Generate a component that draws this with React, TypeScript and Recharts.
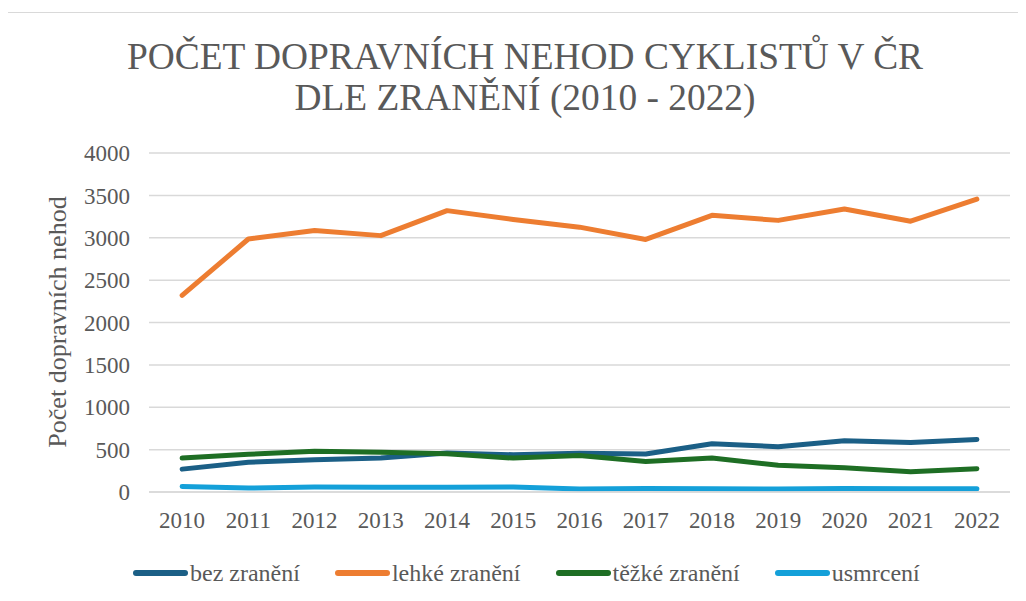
import React from 'react';
import { LineChart, Line, XAxis, YAxis, CartesianGrid } from 'recharts';

const years = ['2010', '2011', '2012', '2013', '2014', '2015', '2016', '2017', '2018', '2019', '2020', '2021', '2022'];
const bezZraneni = [270, 350, 380, 400, 460, 440, 457, 448, 570, 535, 605, 585, 620];
const lehkeZraneni = [2320, 2985, 3085, 3025, 3320, 3215, 3125, 2980, 3265, 3205, 3340, 3195, 3455];
const tezkeZraneni = [400, 445, 480, 470, 450, 400, 430, 360, 400, 315, 285, 240, 275];
const usmrceni = [65, 47, 58, 55, 55, 60, 35, 40, 37, 35, 40, 38, 38];
const yTicks = [0, 500, 1000, 1500, 2000, 2500, 3000, 3500, 4000];

const seriesNames = ['bez zranění', 'lehké zranění', 'těžké zranění', 'usmrcení'];
const seriesColors = ['#1B5F86', '#ED7D31', '#1E6E24', '#14A0D9'];

const data = years.map((y, i) => ({
  year: y,
  bez: bezZraneni[i],
  lehke: lehkeZraneni[i],
  tezke: tezkeZraneni[i],
  usmrceni: usmrceni[i],
}));
const keys = ['bez', 'lehke', 'tezke', 'usmrceni'];

const FONT = '"Liberation Serif", "Times New Roman", serif';
const GREY = '#595959';

export default function App() {
  return (
    <div style={{ position: 'relative', width: 1026, height: 601, margin: -8, overflow: 'hidden', background: '#fff', fontFamily: FONT }}>
      <div style={{ position: 'absolute', left: 5, top: 12, width: 1040, height: 620, border: '1.5px solid #d9d9d9', boxSizing: 'border-box' }} />
      <div style={{ position: 'absolute', left: 0, top: 36, width: 1050, textAlign: 'center', fontSize: 37.4, lineHeight: '41px', color: GREY }}>
        POČET DOPRAVNÍCH NEHOD CYKLISTŮ V ČR<br />DLE ZRANĚNÍ (2010 - 2022)
      </div>
      <div style={{ position: 'absolute', left: 58, top: 322, transform: 'translate(-50%, -50%) rotate(-90deg)', whiteSpace: 'nowrap', fontSize: 26, color: GREY, lineHeight: '30px' }}>
        Počet dopravních nehod
      </div>
      <div style={{ position: 'absolute', left: 0, top: 0 }}>
        <LineChart width={1026} height={601} data={data} margin={{ top: 153, right: 16, bottom: 79, left: 0 }}>
          <CartesianGrid vertical={false} stroke="#d9d9d9" strokeWidth={1.5} />
          <XAxis
            dataKey="year"
            scale="band"
            height={30}
            tickLine={false}
            tickSize={0}
            tickMargin={20}
            axisLine={{ stroke: '#d9d9d9', strokeWidth: 1.5 }}
            tick={{ fill: GREY, fontSize: 23, fontFamily: FONT }}
            interval={0}
          />
          <YAxis
            width={149}
            domain={[0, 4000]}
            ticks={yTicks}
            tickLine={false}
            axisLine={false}
            tickSize={0}
            tickMargin={19}
            tick={{ fill: GREY, fontSize: 23, fontFamily: FONT }}
            interval={0}
          />
          {keys.map((k, i) => (
            <Line
              key={k}
              type="linear"
              dataKey={k}
              name={seriesNames[i]}
              stroke={seriesColors[i]}
              strokeWidth={5}
              strokeLinecap="round"
              strokeLinejoin="round"
              dot={false}
              activeDot={false}
              isAnimationActive={false}
            />
          ))}
        </LineChart>
      </div>
      <div style={{ position: 'absolute', left: 133, top: 573, transform: 'translateY(-50%)', display: 'flex', alignItems: 'center', gap: 35, fontSize: 24, color: GREY, lineHeight: '28px' }}>
        {seriesNames.map((n, i) => (
          <div key={n} style={{ display: 'flex', alignItems: 'center' }}>
            <div style={{ width: 55, height: 6, borderRadius: 3, background: seriesColors[i], marginRight: 2 }} />
            <span>{n}</span>
          </div>
        ))}
      </div>
    </div>
  );
}
